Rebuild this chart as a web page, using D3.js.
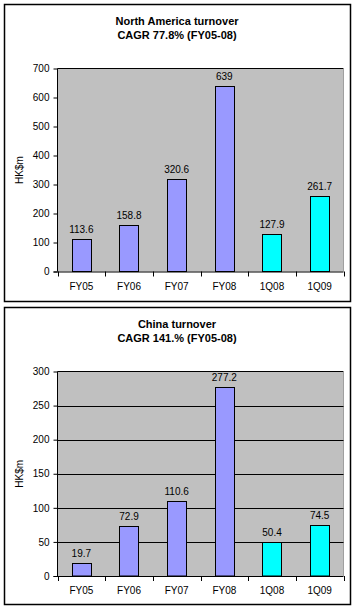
<!DOCTYPE html>
<html>
<head>
<meta charset="utf-8">
<script src="https://cdn.jsdelivr.net/npm/d3@7"></script>
<style>
  body { margin: 0; background: #fff; }
  text { font-family: Arial, "Liberation Sans", sans-serif; }
</style>
</head>
<body>
<svg id="chart" width="353" height="607"></svg>
<script>
const categories = ["FY05", "FY06", "FY07", "FY08", "1Q08", "1Q09"];
const naValues = [113.6, 158.8, 320.6, 639, 127.9, 261.7];
const naLabels = ["113.6", "158.8", "320.6", "639", "127.9", "261.7"];
const cnValues = [19.7, 72.9, 110.6, 277.2, 50.4, 74.5];
const cnLabels = ["19.7", "72.9", "110.6", "277.2", "50.4", "74.5"];
const naTicks = [0, 100, 200, 300, 400, 500, 600, 700];
const cnTicks = [0, 50, 100, 150, 200, 250, 300];
const barColors = ["#9999ff", "#9999ff", "#9999ff", "#9999ff", "#00ffff", "#00ffff"];

const svg = d3.select("#chart");

const draw_panel = function (opt) {
    let g = svg.append("g").attr("transform", `translate(0,${opt.top})`);

    // outer frame
    g.append("rect")
        .attr("x", 4.5).attr("y", 4.5)
        .attr("width", 346).attr("height", 297)
        .attr("fill", "#fff").attr("stroke", "#000").attr("stroke-width", 1.5);

    g.append("text").attr("x", 177).attr("y", 25)
        .attr("text-anchor", "middle").attr("font-size", 11).attr("font-weight", "bold")
        .text(opt.title1);
    g.append("text").attr("x", 177).attr("y", 38.5)
        .attr("text-anchor", "middle").attr("font-size", 11).attr("font-weight", "bold")
        .text(opt.title2);

    let left = 57.5, right = 343.5, top = opt.plotTop, bottom = opt.plotBottom;

    let x = d3.scaleBand().domain(categories).range([left, right]);
    let y = d3.scaleLinear().domain([0, d3.max(opt.ticks)]).range([bottom, top]);

    g.append("rect")
        .attr("x", left).attr("y", top)
        .attr("width", right - left).attr("height", bottom - top)
        .attr("fill", "#c0c0c0");
    g.append("line").attr("x1", left).attr("x2", right).attr("y1", top).attr("y2", top)
        .attr("stroke", "#000");
    g.append("line").attr("x1", right).attr("x2", right).attr("y1", top).attr("y2", bottom)
        .attr("stroke", "#a0a0a0");

    if (opt.grid) {
        g.selectAll(".grid").data(opt.ticks.slice(1, -1)).enter().append("line")
            .attr("x1", left).attr("x2", right)
            .attr("y1", d => Math.round(y(d)) + 0.5).attr("y2", d => Math.round(y(d)) + 0.5)
            .attr("stroke", "#000").attr("stroke-width", 1);
    }

    let bw = x.bandwidth() / 2.5;
    g.selectAll(".bar").data(opt.values).enter().append("rect")
        .attr("x", (d, i) => Math.round(x(categories[i]) + (x.bandwidth() - bw) / 2) + 0.5)
        .attr("y", d => Math.round(y(d)) + 0.5)
        .attr("width", Math.round(bw))
        .attr("height", d => bottom - Math.round(y(d)) - 0.5)
        .attr("fill", (d, i) => barColors[i])
        .attr("stroke", "#000").attr("stroke-width", 1);

    g.selectAll(".vlab").data(opt.values).enter().append("text")
        .attr("x", (d, i) => x(categories[i]) + x.bandwidth() / 2)
        .attr("y", d => y(d) - 6)
        .attr("text-anchor", "middle").attr("font-size", 10)
        .text((d, i) => opt.labels[i]);

    // y axis
    let yAxis = d3.axisLeft(y).tickValues(opt.ticks).tickSize(4).tickPadding(4).tickFormat(d3.format("d"));
    let ya = g.append("g").attr("transform", `translate(${left},0)`).call(yAxis);
    ya.select(".domain").remove();
    ya.append("line").attr("x1", 0).attr("x2", 0).attr("y1", top).attr("y2", bottom).attr("stroke", "#000");
    ya.selectAll("text").attr("font-size", 10).attr("fill", "#000").style("font-family", "Arial, 'Liberation Sans', sans-serif");

    // x axis: ticks at category boundaries
    let xa = g.append("g");
    xa.append("line").attr("x1", left - 4).attr("x2", right).attr("y1", bottom + 0.5).attr("y2", bottom + 0.5).attr("stroke", "#000");
    let bounds = categories.map(c => x(c)).concat([right]);
    xa.selectAll(".xt").data(bounds).enter().append("line")
        .attr("x1", d => Math.round(d) + 0.5).attr("x2", d => Math.round(d) + 0.5)
        .attr("y1", bottom).attr("y2", bottom + 5).attr("stroke", "#000");
    xa.selectAll(".xl").data(categories).enter().append("text")
        .attr("x", d => x(d) + x.bandwidth() / 2)
        .attr("y", bottom + 18)
        .attr("text-anchor", "middle").attr("font-size", 10)
        .text(d => d);

    g.append("text")
        .attr("transform", `translate(23,${(top + bottom) / 2}) rotate(-90)`)
        .attr("text-anchor", "middle").attr("font-size", 10)
        .text("HK$m");
};

draw_panel({
    top: 0, title1: "North America turnover", title2: "CAGR 77.8% (FY05-08)",
    values: naValues, labels: naLabels, ticks: naTicks,
    plotTop: 68.5, plotBottom: 271.5, grid: false
});
draw_panel({
    top: 303, title1: "China turnover", title2: "CAGR 141.% (FY05-08)",
    values: cnValues, labels: cnLabels, ticks: cnTicks,
    plotTop: 68.5, plotBottom: 273, grid: true
});
</script>
</body>
</html>
